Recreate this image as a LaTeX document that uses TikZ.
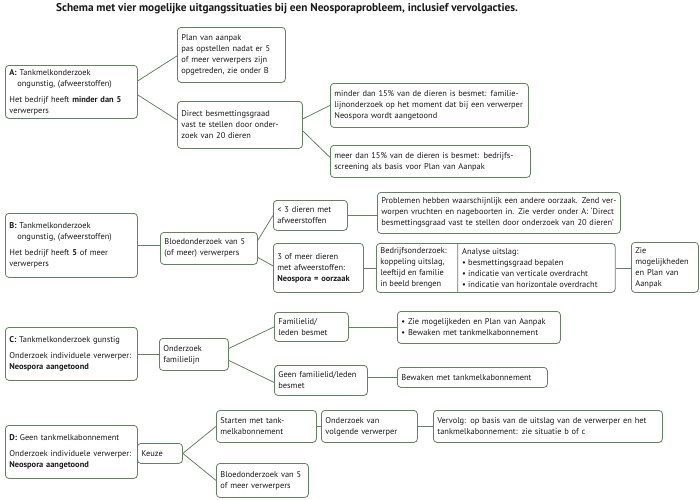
\documentclass[tikz,border=0pt]{standalone}
\usepackage{fontspec}
\setmainfont{PT Sans}
\usepackage{xcolor}
\usepackage{tikz}
\usetikzlibrary{calc}
\usetikzlibrary{shapes.multipart}
\definecolor{kader}{RGB}{98,130,98}
\tikzset{
	blok/.style={
		draw=kader, line width=0.8pt, rounded corners=3.5pt,
		anchor=north west, align=left, inner xsep=4pt, inner ysep=2pt,
		font=\fontsize{8.4}{11}\selectfont, text=black!90,
	},
	splitblok/.style={
		draw=kader, line width=0.8pt, rounded corners=3.5pt,
		anchor=north west, inner xsep=4pt, inner ysep=2pt,
		font=\fontsize{8.4}{11}\selectfont, text=black!90,
		rectangle split, rectangle split horizontal, rectangle split parts=2,
	},
	lijn/.style={draw=kader, line width=0.8pt},
}

\begin{document}
\begin{tikzpicture}[x=1pt, y=-1pt]
			\useasboundingbox (0,0) rectangle (700,499);
			% Title
			\node[font=\fontsize{11.3}{13}\selectfont\bfseries, text=black!90] (titel) at (287,9)
				{Schema met vier mogelijke uitgangssituaties bij een Neosporaprobleem, inclusief vervolgacties.};
			
			% Situation A
			\node[blok, text width=124pt, minimum height=53pt] (A) at (5,65)
				{\textbf{A:} Tankmelkonderzoek\\ \hspace*{8pt}ongunstig, (afweerstoffen)\\[5pt] Het bedrijf heeft \textbf{minder dan 5}\\ verwerpers};
			\node[blok, text width=100pt, minimum height=55pt] (plan) at (177,27)
				{Plan van aanpak\\ pas opstellen nadat er 5\\ of meer verwerpers zijn\\ opgetreden, zie onder B};
			\node[blok, text width=117pt, minimum height=47pt] (direct) at (177,101)
				{Direct besmettingsgraad\\ vast te stellen door onder-\\ zoek van 20 dieren};
			\node[blok, text width=190pt, minimum height=44pt] (minder) at (330,83)
				{minder dan 15\% van de dieren is besmet: familie-\\ lijnonderzoek op het moment dat bij een verwerper\\ Neospora wordt aangetoond};
			\node[blok, text width=192pt, minimum height=32pt] (meer) at (330,145)
				{meer dan 15\% van de dieren is besmet: bedrijfs-\\ screening als basis voor Plan van Aanpak};
			
			% Situation B
			\node[blok, text width=124pt, minimum height=64pt] (B) at (5,213)
				{\textbf{B:} Tankmelkonderzoek\\ \hspace*{8pt}ongunstig, (afweerstoffen)\\[5pt] Het bedrijf heeft \textbf{5} of meer\\ verwerpers};
			\node[blok, text width=89pt, minimum height=32pt] (bloed) at (160,232)
				{Bloedonderzoek van 5\\ (of meer) verwerpers};
			\node[blok, text width=66pt, minimum height=30pt] (minder3) at (273,200)
				{< 3 dieren met\\ afweerstoffen};
			\node[blok, text width=82pt, minimum height=49pt] (oorzaak) at (273,243)
				{3 of meer dieren\\ met afweerstoffen:\\ \textbf{Neospora = oorzaak}};
			\node[blok, text width=235pt, minimum height=41pt] (anders) at (377,192)
				{Problemen hebben waarschijnlijk een andere oorzaak. Zend ver-\\ worpen vruchten en nageboorten in. Zie verder onder A: `Direct\\ besmettingsgraad vast te stellen door onderzoek van 20 dieren'};
			\node[splitblok] (bedrijf) at (376,243)
				{\parbox[c][45pt][c]{73pt}{\raggedright Bedrijfsonderzoek:\\ koppeling uitslag,\\ leeftijd en familie\\ in beeld brengen}%
				\nodepart{two}\parbox[c][45pt][c]{149pt}{\raggedright Analyse uitslag:\\
					\textbullet\ besmettingsgraad bepalen\\
					\textbullet\ indicatie van verticale overdracht\\
					\textbullet\ indicatie van horizontale overdracht}};
			\node[blok, text width=59pt, minimum height=50pt] (zie) at (631,242)
				{Zie\\ mogelijkheden\\ en Plan van\\ Aanpak};
			
			% Situation C
			\node[blok, text width=124pt, minimum height=53pt] (C) at (5,327)
				{\textbf{C:} Tankmelkonderzoek gunstig\\[5pt] Onderzoek individuele verwerper:\\ \textbf{Neospora aangetoond}};
			\node[blok, text width=61pt, minimum height=32pt] (familie) at (159,338)
				{Onderzoek\\ familielijn};
			\node[blok, text width=66pt, minimum height=29pt] (besmet) at (274,312)
				{Familielid/\\ leden besmet};
			\node[blok, text width=85pt, minimum height=30pt] (geen) at (274,365)
				{Geen familielid/leden\\ besmet};
			\node[blok, text width=155pt, minimum height=32pt] (ziemog) at (397,311)
				{\textbullet\ Zie mogelijkeden en Plan van Aanpak\\ \textbullet\ Bewaken met tankmelkabonnement};
			\node[blok, text width=142pt, minimum height=20pt] (bewaken) at (397,367)
				{Bewaken met tankmelkabonnement};
			
			% Situation D
			\node[blok, text width=124pt, minimum height=53pt] (D) at (5,425)
				{\textbf{D:} Geen tankmelkabonnement\\[5pt] Onderzoek individuele verwerper:\\ \textbf{Neospora aangetoond}};
			\node[blok, text width=37pt, minimum height=20pt] (keuze) at (137,443)
				{Keuze};
			\node[blok, text width=92pt, minimum height=32pt] (starten) at (216,410)
				{Starten met tank-\\ melkabonnement};
			\node[blok, text width=88pt, minimum height=32pt] (volgende) at (321,410)
				{Onderzoek van\\ volgende verwerper};
			\node[blok, text width=221pt, minimum height=32pt] (vervolg) at (433,410)
				{Vervolg: op basis van de uitslag van de verwerper en het\\ tankmelkabonnement: zie situatie b of c};
			\node[blok, text width=84pt, minimum height=34pt] (bloedD) at (216,463)
				{Bloedonderzoek van 5\\ of meer verwerpers};
			
			% Connectors A
			\draw[lijn] ([yshift=11pt]A.east) -- ([yshift=-1pt]plan.west);
			\draw[lijn] ([yshift=-3pt]A.east) -- ([yshift=5pt]direct.west);
			\draw[lijn] ([yshift=6pt]direct.east) -- (minder.west);
			\draw[lijn] ([yshift=-6pt]direct.east) -- ([yshift=4pt]meer.west);
			
			% Connectors B
			\draw[lijn] (B.east) -- (B.east -| bloed.west);
			\draw[lijn] ([yshift=8pt]bloed.east) -- (minder3.west);
			\draw[lijn] ([yshift=-9pt]bloed.east) -- ([yshift=2pt]oorzaak.west);
			\draw[lijn] (minder3.east) -- (minder3.east -| anders.west);
			\draw[lijn] (oorzaak.east) -- (oorzaak.east -| bedrijf.west);
			\draw[lijn] (bedrijf.east) -- (bedrijf.east -| zie.west);
			
			% Connectors C
			\draw[lijn] (C.east) -- (C.east -| familie.west);
			\draw[lijn] ([yshift=6pt]familie.east) -- (besmet.west);
			\draw[lijn] ([yshift=-6pt]familie.east) -- ([yshift=-2pt]geen.west);
			\draw[lijn] (besmet.east) -- (besmet.east -| ziemog.west);
			\draw[lijn] (bewaken.west -| geen.east) -- (bewaken.west);
			
			% Connectors D
			\draw[lijn] (keuze.east) -- (starten.west);
			\draw[lijn] (keuze.east) -- (bloedD.west);
			\draw[lijn] (starten.east) -- (volgende.west);
			\draw[lijn] (volgende.east) -- (vervolg.west);
		\end{tikzpicture}
\end{document}
